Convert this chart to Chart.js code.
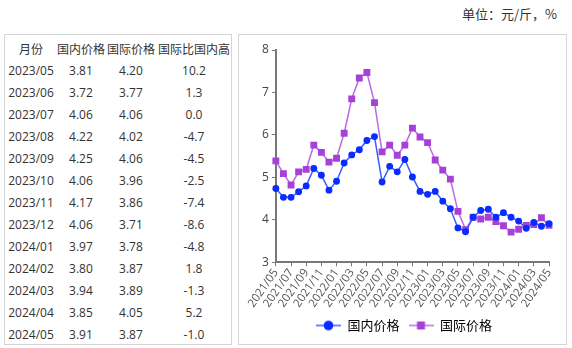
<!DOCTYPE html>
<html><head><meta charset="utf-8">
<script src="https://cdn.jsdelivr.net/npm/chart.js@4"></script>
<style>
html,body{margin:0;padding:0;background:#fff;width:572px;height:348px;overflow:hidden;font-family:"Open Sans","Noto Sans CJK SC",sans-serif;}
#unit{position:absolute;right:15px;top:4px;font-size:13px;color:#333;font-family:"Noto Sans CJK SC",serif;}
#tbl{position:absolute;left:4px;top:34px;width:226px;height:309px;border:1px solid #d4d4d4;}
#tbl table{border-collapse:collapse;position:absolute;left:0;top:2px;font-size:12px;color:#333;}
#tbl td{height:22px;padding:0;text-align:center;white-space:nowrap;}
#tbl th{height:22px;padding:0;font-weight:normal;text-align:center;white-space:nowrap;font-family:"Noto Sans CJK SC",sans-serif;font-size:12px;}
#box{position:absolute;left:238px;top:34px;width:327px;height:309px;border:1px solid #d4d4d4;}
#box canvas{position:absolute;left:0;top:0;}
</style></head>
<body>
<div id="unit">单位：元/斤，%</div>
<div id="tbl"><table id="t"></table></div>
<div id="box"><canvas id="c" width="327" height="309"></canvas></div>
<script>
const months = ["2021/05","2021/06","2021/07","2021/08","2021/09","2021/10","2021/11","2021/12","2022/01","2022/02","2022/03","2022/04","2022/05","2022/06","2022/07","2022/08","2022/09","2022/10","2022/11","2022/12","2023/01","2023/02","2023/03","2023/04","2023/05","2023/06","2023/07","2023/08","2023/09","2023/10","2023/11","2023/12","2024/01","2024/02","2024/03","2024/04","2024/05"];
const domestic = [4.74,4.53,4.53,4.66,4.80,5.21,5.05,4.70,4.91,5.34,5.53,5.65,5.87,5.96,4.89,5.26,5.13,5.42,5.01,4.67,4.60,4.67,4.44,4.26,3.81,3.72,4.06,4.22,4.25,4.06,4.17,4.06,3.97,3.80,3.94,3.85,3.91];
const international = [5.39,5.09,4.82,5.13,5.19,5.76,5.59,5.36,5.45,6.04,6.85,7.34,7.47,6.76,5.60,5.76,5.52,5.76,6.16,5.95,5.82,5.41,5.17,4.96,4.20,3.77,4.06,4.02,4.06,3.96,3.86,3.71,3.78,3.87,3.89,4.05,3.87];
const tableHeaders = ["月份","国内价格","国际价格","国际比国内高"];
const tableMonths = ["2023/05","2023/06","2023/07","2023/08","2023/09","2023/10","2023/11","2023/12","2024/01","2024/02","2024/03","2024/04","2024/05"];
const tableDomestic = ["3.81","3.72","4.06","4.22","4.25","4.06","4.17","4.06","3.97","3.80","3.94","3.85","3.91"];
const tableIntl = ["4.20","3.77","4.06","4.02","4.06","3.96","3.86","3.71","3.78","3.87","3.89","4.05","3.87"];
const tableDiff = ["10.2","1.3","0.0","-4.7","-4.5","-2.5","-7.4","-8.6","-4.8","1.8","-1.3","5.2","-1.0"];
const seriesNames = ["国内价格","国际价格"];
const yTicks = [3,4,5,6,7,8];

// table
const colW = [52,48,52,74];
let html = "<tr>" + tableHeaders.map((h,i)=>`<th style="width:${colW[i]}px">${h}</th>`).join("") + "</tr>";
tableMonths.forEach((m,i)=>{
  html += `<tr><td>${m}</td><td>${tableDomestic[i]}</td><td>${tableIntl[i]}</td><td>${tableDiff[i]}</td></tr>`;
});
document.getElementById("t").innerHTML = html;

const blueLine = "#3a5cff", bluePt = "#0b2cff";
const purLine = "#bb6ae6", purPt = "#a641d8";

function legendIcon(lineC, ptC, style){
  const cv = document.createElement("canvas");
  cv.width = 25; cv.height = 14;
  const g = cv.getContext("2d");
  g.strokeStyle = lineC; g.lineWidth = 1.5;
  g.beginPath(); g.moveTo(0,7); g.lineTo(25,7); g.stroke();
  g.fillStyle = ptC;
  if (style === "circle"){ g.beginPath(); g.arc(12.5,7,4.8,0,Math.PI*2); g.fill(); }
  else { g.fillRect(8.5,3,8,8); }
  return cv;
}
const icons = [legendIcon(blueLine,bluePt,"circle"), legendIcon(purLine,purPt,"rect")];

new Chart(document.getElementById("c"), {
  type: "line",
  data: {
    labels: months,
    datasets: [
      {label: seriesNames[0], data: domestic, borderColor: blueLine, backgroundColor: bluePt, pointBackgroundColor: bluePt, pointBorderColor: bluePt, pointStyle: "circle", pointRadius: 2.7, borderWidth: 1.5, tension: 0},
      {label: seriesNames[1], data: international, borderColor: purLine, backgroundColor: purPt, pointBackgroundColor: purPt, pointBorderColor: purPt, pointStyle: "rect", pointRadius: 3.8, borderWidth: 1.5, tension: 0}
    ]
  },
  options: {
    responsive: false,
    animation: false,
    layout: {padding: {top: 15, right: 17, left: 20, bottom: 2}},
    plugins: {
      tooltip: {enabled: false},
      legend: {
        position: "bottom",
        labels: {
          usePointStyle: true,
          pointStyleWidth: 25,
          font: {size: 13, family: "'Noto Sans CJK SC', sans-serif"},
          color: "#333",
          padding: 9,
          generateLabels: (chart) => chart.data.datasets.map((ds,i)=>({
            text: ds.label, pointStyle: icons[i], fillStyle: ds.backgroundColor, strokeStyle: ds.borderColor, lineWidth: 0, datasetIndex: i, hidden: false
          }))
        }
      }
    },
    scales: {
      x: {
        type: "category",
        offset: false,
        grid: {display: true, drawOnChartArea: false, drawTicks: true, tickLength: 4, color: "#777", offset: false},
        border: {color: "#777", width: 2},
        ticks: {
          autoSkip: false, maxRotation: 55, minRotation: 55, padding: 0,
          font: {size: 11.5, family: "'Open Sans', sans-serif"}, color: "#555",
          callback: function(v, i){ return i % 2 === 0 ? months[i] : null; }
        }
      },
      y: {
        min: yTicks[0], max: yTicks[yTicks.length-1],
        afterBuildTicks: (s)=>{ s.ticks = yTicks.map(v=>({value:v})); },
        grid: {display: true, drawOnChartArea: false, drawTicks: true, tickLength: 4, color: "#777"},
        border: {color: "#777", width: 2},
        ticks: {font: {size: 12, family: "'Open Sans', sans-serif"}, color: "#444", padding: 3}
      }
    }
  }
});
</script>
</body></html>
